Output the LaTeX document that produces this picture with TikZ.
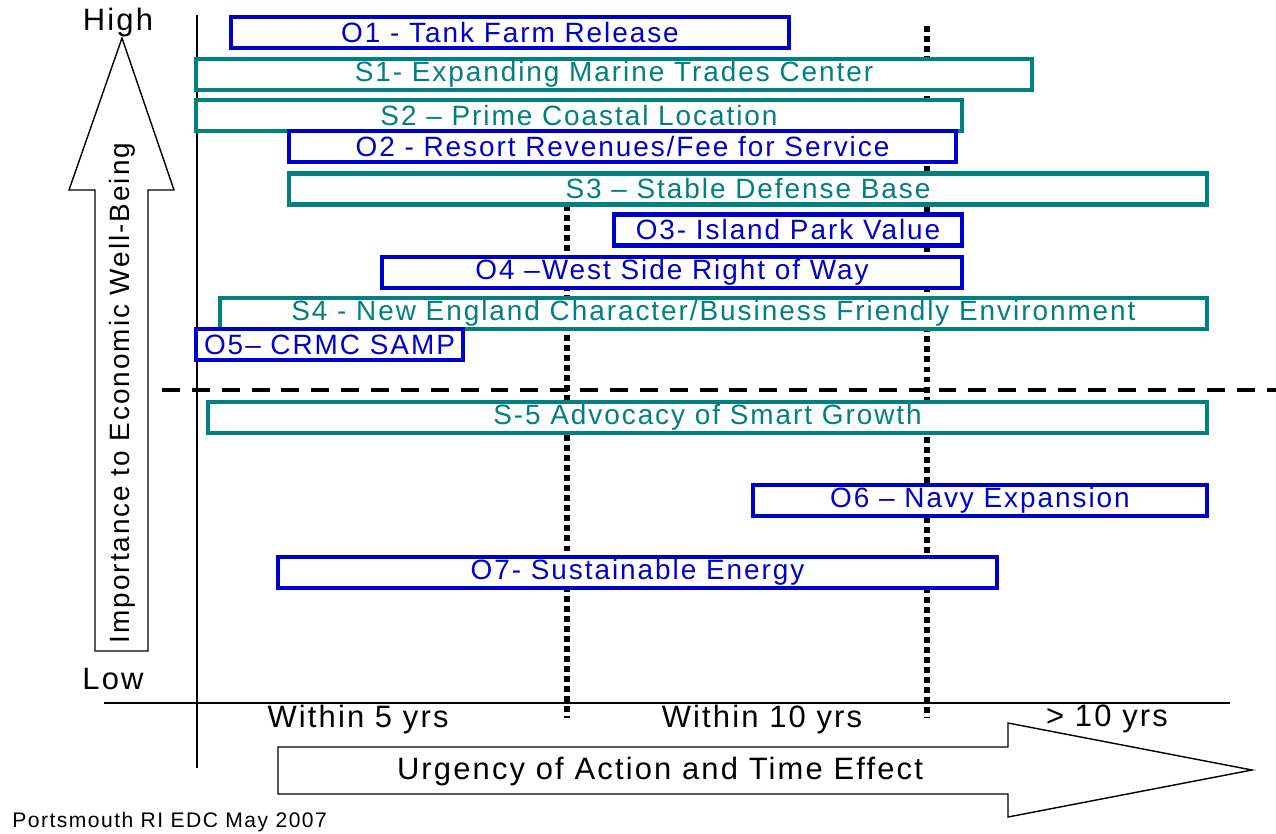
\documentclass[tikz,border=0pt]{standalone}
\usepackage{fontspec}
\setmainfont{Liberation Sans}[LetterSpace=7]
\definecolor{oblue}{HTML}{0000CC}
\definecolor{steal}{HTML}{008080}
\tikzstyle{box} = [rectangle, line width=2.3pt, fill=white, minimum height=0.62cm, inner sep=0pt, font=\fontsize{15.9}{18}\selectfont]
\tikzstyle{obox} = [box, draw=oblue, text=oblue]
\tikzstyle{sbox} = [box, draw=steal, text=steal]
\tikzstyle{axislabel} = [inner sep=0pt, font=\fontsize{17.6}{20}\selectfont]
\tikzstyle{timeline} = [line width=3.4pt, dash pattern=on 3.4pt off 2.3pt]
\tikzstyle{cutline} = [line width=2.8pt, dash pattern=on 10.2pt off 6.8pt]
\tikzstyle{bigarrow} = [draw=black, line width=0.8pt, fill=white]

\begin{document}
\begin{tikzpicture}[x=0.02cm, y=-0.02cm]
        \useasboundingbox (0,0) rectangle (1276,833);

        \draw[line width=0.9pt] (197,15) -- (197,768);
        \draw[line width=0.9pt] (104,703) -- (1230,703);
        \draw[timeline] (567,205) -- (567,718);
        \draw[timeline] (927,26) -- (927,718);
        \draw[cutline] (162,390) -- (1276,390);

        \draw[bigarrow] (122,38) -- (174,190) -- (148,190) -- (148,651) -- (95,651) -- (95,190) -- (69,190) -- cycle;
        \draw[bigarrow] (278,747) -- (1008,747) -- (1008,723) -- (1252,770) -- (1008,817) -- (1008,794) -- (278,794) -- cycle;

        \node(o1) [obox, minimum width=11.16cm] at (510,32.5) {O1 - Tank Farm Release};
        \node(s1) [sbox, minimum width=16.72cm] at (614,74.5) {S1- Expanding Marine Trades Center};
        \node(s2) [sbox, minimum width=15.32cm] at (579,115.5) {S2 -- Prime Coastal Location};
        \node(o2) [obox, minimum width=13.34cm] at (622.5,146.5) {O2 - Resort Revenues/Fee for Service};
        \node(s3) [sbox, minimum width=18.36cm] at (748,189) {S3 -- Stable Defense Base};
        \node(o3) [obox, minimum width=6.96cm] at (788,230) {O3- Island Park Value};
        \node(o4) [obox, minimum width=11.6cm] at (672,272.5) {O4 --West Side Right of Way};
        \node(s4) [sbox, minimum width=19.74cm] at (713.5,313.5) {S4 - New England Character/Business Friendly Environment};
        \node(o5) [obox, minimum width=5.34cm] at (329.5,344.5) {O5-- CRMC SAMP};
        \node(s5) [sbox, minimum width=19.98cm] at (707.5,417.5) {S-5 Advocacy of Smart Growth};
        \node(o6) [obox, minimum width=9.08cm] at (980,500.5) {O6 -- Navy Expansion};
        \node(o7) [obox, minimum width=14.38cm] at (637.5,572.5) {O7- Sustainable Energy};

        \node(high) [axislabel] at (118,22) {High};
        \node(low) [axislabel] at (113,679) {Low};
        \node(importance) [inner sep=0pt, rotate=90, font=\fontsize{15.9}{18}\selectfont] at (122,393) {Importance to Economic Well-Being};
        \node(within5) [axislabel] at (358,719) {Within 5 yrs};
        \node(within10) [axislabel] at (762,719) {Within 10 yrs};
        \node(over10) [axislabel] at (1107,719) {> 10 yrs};
        \node(urgency) [axislabel] at (660,771) {Urgency of Action and Time Effect};
        \node(source) [anchor=west, inner sep=0pt, font=\fontsize{12}{14}\selectfont] at (12,822) {Portsmouth RI EDC May 2007};
    \end{tikzpicture}
\end{document}
